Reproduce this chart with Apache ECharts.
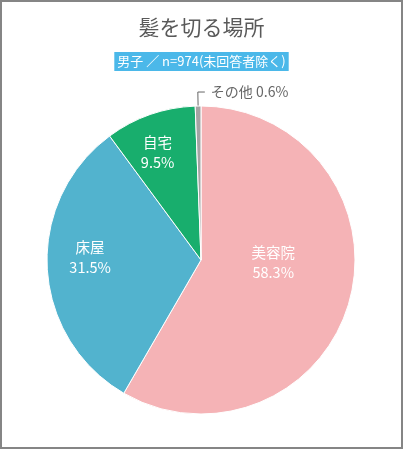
<!DOCTYPE html>
<html>
<head>
<meta charset="utf-8">
<script src="https://cdn.jsdelivr.net/npm/echarts@6/dist/echarts.min.js"></script>
<style>
html,body{margin:0;padding:0;background:#fff;}
#main{width:403px;height:449px;}
</style>
</head>
<body>
<div id="main"></div>
<script>
// ---- data ----
const titleText = '髪を切る場所';
const subtitleText = '男子 ／ n=974(未回答者除く)';
const categories = ['美容院', '床屋', '自宅', 'その他'];
const values = [58.3, 31.5, 9.5, 0.6];

// ---- styling / layout ----
const colors = ['#F5B3B6', '#52B3CE', '#18AE6D', '#A3A3A3'];
const labelOffsets = [[-5, -18], [-31, -7], [-17, -32], null];
const FONT = '"Noto Sans CJK JP", "Noto Sans", sans-serif';

const pieData = categories.map((name, i) => {
  const item = { name: name, value: values[i], itemStyle: { color: colors[i] } };
  if (i === 3) {
    item.label = {
      position: 'outside',
      color: '#666',
      fontSize: 14,
      formatter: '{b} {c}%'
    };
    item.labelLine = { show: true, length: 14, length2: 7, lineStyle: { color: '#666', width: 1 } };
  } else {
    item.label = { offset: labelOffsets[i] };
  }
  return item;
});

const chart = echarts.init(document.getElementById('main'), null, { renderer: 'canvas' });
chart.setOption({
  animation: false,
  backgroundColor: '#fff',
  textStyle: { fontFamily: FONT },
  graphic: [{
    type: 'rect',
    shape: { x: 1, y: 1, width: 401, height: 447 },
    style: { fill: 'none', stroke: '#858585', lineWidth: 2 },
    z: 100
  }],
  title: [{
    text: titleText,
    left: 'center',
    top: 17,
    padding: 0,
    textStyle: { fontFamily: FONT, fontSize: 21, fontWeight: 'normal', color: '#595959' }
  }, {
    text: subtitleText,
    left: 'center',
    top: 52,
    padding: [2, 3, 2, 3],
    backgroundColor: '#4BB8E9',
    textStyle: { fontFamily: FONT, fontSize: 13, fontWeight: 'normal', color: '#fff', lineHeight: 15 }
  }],
  series: [{
    type: 'pie',
    center: [201, 260],
    radius: [0, 154],
    startAngle: 90,
    clockwise: true,
    avoidLabelOverlap: false,
    itemStyle: { borderColor: '#fff', borderWidth: 1 },
    label: {
      show: true,
      position: 'inside',
      color: '#fff',
      fontFamily: FONT,
      fontSize: 14.5,
      lineHeight: 20,
      formatter: '{b}\n{c}%'
    },
    labelLine: { show: false },
    emphasis: { disabled: true },
    labelLayout: function (params) {
      if (params.dataIndex !== 3 || !params.labelLinePoints) return {};
      const p = params.labelLinePoints;
      const dx = Math.abs(p[2][0] - p[1][0]);
      const endX = p[1][0] + dx;
      return {
        x: endX + 6,
        y: p[1][1],
        align: 'left',
        verticalAlign: 'middle',
        labelLinePoints: [p[0], p[1], [endX, p[1][1]]]
      };
    },
    data: pieData
  }]
});
</script>
</body>
</html>
